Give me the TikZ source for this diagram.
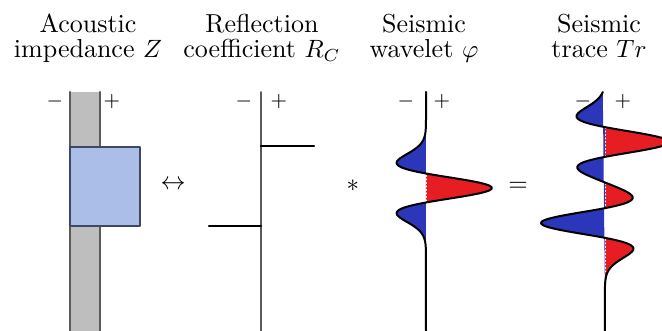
\documentclass[tikz,border=0pt]{standalone}
\definecolor{barfill}{RGB}{190,190,190}
\definecolor{baredge}{RGB}{90,90,90}
\definecolor{boxfill}{RGB}{170,190,232}
\definecolor{boxedge}{RGB}{60,72,100}
\definecolor{lobeblue}{RGB}{44,54,186}
\definecolor{lobered}{RGB}{230,30,36}
\begin{document}
\begin{tikzpicture}[x=.4pt,y=-.4pt,line join=round,line cap=round,
	font=\fontsize{10.4}{10}\selectfont,
	declare function={rick(\u)=(1-2*\u*\u)*exp(-\u*\u);},
	sign/.style={font=\fontsize{8.5}{9}\selectfont,inner sep=0pt},
	spike/.style={line width=1pt},
	trace/.style={line width=.8pt},
	neglobe/.style={fill=lobeblue},
	poslobe/.style={fill=lobered}]
	\useasboundingbox (0,0) rectangle (662,331);
	\clip (0,0) rectangle (662,331);
	% titles
	\foreach \x/\n/\a/\b in {88/z/Acoustic/impedance $Z$,262/rc/Reflection/coefficient $R_C$,424/phi/Seismic/wavelet $\varphi$,599/tr/Seismic/trace $Tr$}{
		\node[anchor=base] (\n-a) at (\x,33) {\a};
		\node[anchor=base] (\n-b) at (\x,58) {\b};
	}
	% signs
	\foreach \x/\n/\g in {55/zm/-,112/zp/+,244/rcm/-,279/rcp/+,406/phim/-,442/phip/+,583/trm/-,623/trp/+}
		\node[sign] (\n) at (\x,102) {$\g$};
	% impedance
	\fill[barfill] (70,92) rectangle (100,331);
	\draw[baredge,line width=.8pt] (70,92)--(70,331) (100,92)--(100,331);
	\draw[boxedge,fill=boxfill,line width=.6pt] (70,147) rectangle (140,226);
	% reflectivity
	\draw[baredge,line width=.6pt] (261,92)--(261,331);
	\draw[spike] (261,146)--(314,146) (209,226)--(261,226);
	% wavelet
	\begin{scope}
		\clip (426,0) rectangle (662,331);
		\path[poslobe] plot[domain=120:256,samples=90,smooth] ({426+66*rick((\x-188)/20.5)},\x) -- cycle;
	\end{scope}
	\begin{scope}
		\clip (300,0) rectangle (426,331);
		\path[neglobe] plot[domain=120:256,samples=90,smooth] ({426+66*rick((\x-188)/20.5)},\x) -- cycle;
	\end{scope}
	\draw[white,densely dotted,line width=.4pt] (426,130)--(426,250);
	\draw[trace] (426,92)--(426,120) plot[domain=120:256,samples=90,smooth] ({426+66*rick((\x-188)/20.5)},\x) -- (426,331);
	% trace
	\begin{scope}
		\clip (605,0) rectangle (662,331);
		\path[poslobe] plot[domain=92:290,samples=120,smooth] ({605+64*rick((\x-142)/21)-64*rick((\x-223)/21)},\x) -- cycle;
	\end{scope}
	\begin{scope}
		\clip (480,0) rectangle (605,331);
		\path[neglobe] plot[domain=92:290,samples=120,smooth] ({605+64*rick((\x-142)/21)-64*rick((\x-223)/21)},\x) -- cycle;
	\end{scope}
	\draw[white,densely dotted,line width=.4pt] (605,96)--(605,272);
	\draw[trace] plot[domain=92:290,samples=120,smooth] ({605+64*rick((\x-142)/21)-64*rick((\x-223)/21)},\x) -- (605,331);
	% operators
	\node (eqv) at (173,185) {$\leftrightarrow$};
	\node (conv) at (353,186) {$*$};
	\node (eq) at (518,187) {$=$};
\end{tikzpicture}
\end{document}
